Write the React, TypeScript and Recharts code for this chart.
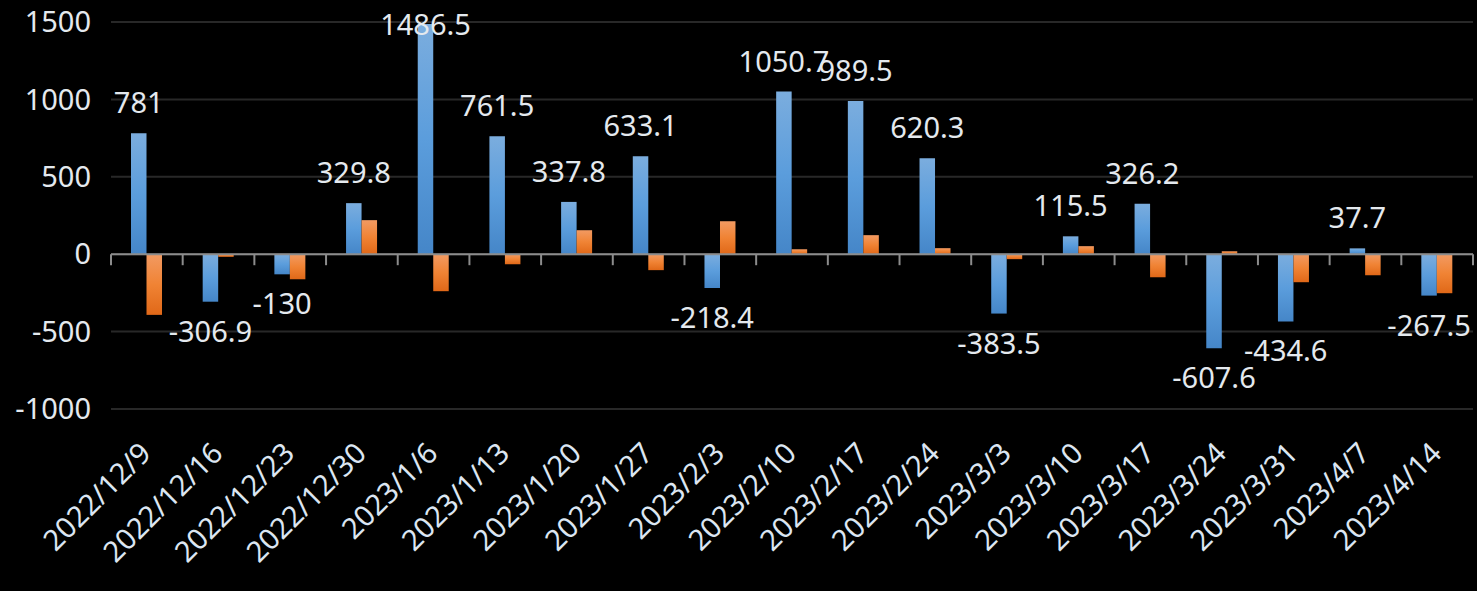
import { BarChart, Bar, XAxis, YAxis, CartesianGrid, ReferenceLine, LabelList } from "recharts";

const dates = [
  "2022/12/9", "2022/12/16", "2022/12/23", "2022/12/30", "2023/1/6", "2023/1/13", "2023/1/20",
  "2023/1/27", "2023/2/3", "2023/2/10", "2023/2/17", "2023/2/24", "2023/3/3", "2023/3/10",
  "2023/3/17", "2023/3/24", "2023/3/31", "2023/4/7", "2023/4/14",
];

const blueValues = [
  781, -306.9, -130, 329.8, 1486.5, 761.5, 337.8, 633.1, -218.4, 1050.7, 989.5, 620.3,
  -383.5, 115.5, 326.2, -607.6, -434.6, 37.7, -267.5,
];

// orange series has no labels
const orangeValues = [
  -392, -17, -162, 220, -239, -65, 155, -103, 213, 32, 123, 39, -32, 52, -149, 19, -181, -136, -252,
];

const yTicks = [-1000, -500, 0, 500, 1000, 1500];

const data = dates.map((d, i) => ({ date: d, a: blueValues[i], b: orangeValues[i] }));

const FONT = "'Noto Sans', 'DejaVu Sans', sans-serif";
const TEXT = "#e4e9ee";

function ValueLabel(props: any) {
  const vb = props.viewBox ?? props;
  const { x, y, width, height } = vb;
  const value = Number(props.value);
  const top = Math.min(y, y + height);
  const bottom = Math.max(y, y + height);
  const cx = x + width / 2;
  // keep the label inside the chart when the bar reaches the top
  const ty = value >= 0 ? Math.max(top - 20, 35) : bottom + 40;
  return (
    <text x={cx} y={ty} textAnchor="middle" fill={TEXT} fontSize={29} fontFamily={FONT}>
      {String(props.value)}
    </text>
  );
}

function DateTick({ x, y, payload }: any) {
  return (
    <text
      x={x + 6}
      y={y}
      transform={`rotate(-45, ${x + 6}, ${y})`}
      textAnchor="end"
      fill="#dce6f2"
      fontSize={29}
      fontFamily={FONT}
    >
      {payload.value}
    </text>
  );
}

function ZeroAxis(props: any) {
  const { x1, y1, x2 } = props;
  const n = dates.length;
  const step = (x2 - x1) / n;
  const marks = [];
  for (let i = 0; i <= n; i++) {
    const tx = x1 + step * i;
    marks.push(<line key={i} x1={tx} y1={y1} x2={tx} y2={y1 + 11} stroke="#8c8c8c" strokeWidth={2} />);
  }
  return (
    <g>
      <line x1={x1} y1={y1} x2={x2} y2={y1} stroke="#8c8c8c" strokeWidth={2} />
      {marks}
    </g>
  );
}

export default function App() {
  return (
    <div style={{ position: "absolute", left: 0, top: 0, width: 1477, height: 591, background: "#000" }}>
      <BarChart
        width={1477}
        height={591}
        data={data}
        margin={{ top: 22, right: 4, left: 0, bottom: 0 }}
        barGap={0}
      >
        <defs>
          <linearGradient id="blueGrad" x1="0" y1="0" x2="0" y2="1">
            <stop offset="0%" stopColor="#7badde" />
            <stop offset="50%" stopColor="#5b9ddc" />
            <stop offset="100%" stopColor="#4586c8" />
          </linearGradient>
          <linearGradient id="orangeGrad" x1="0" y1="0" x2="0" y2="1">
            <stop offset="0%" stopColor="#f29a62" />
            <stop offset="50%" stopColor="#f08334" />
            <stop offset="100%" stopColor="#e06818" />
          </linearGradient>
        </defs>
        <CartesianGrid vertical={false} stroke="#282828" strokeWidth={2} />
        <XAxis
          dataKey="date"
          interval={0}
          height={182}
          axisLine={false}
          tickLine={false}
          tickSize={0}
          tickMargin={46}
          tick={<DateTick />}
        />
        <YAxis
          domain={[-1000, 1500]}
          ticks={yTicks}
          width={111}
          axisLine={false}
          tickLine={false}
          tickSize={10}
          tickMargin={10}
          tick={{ fill: TEXT, fontSize: 29, fontFamily: FONT }}
        />
        <ReferenceLine y={0} shape={<ZeroAxis />} />
        <Bar dataKey="a" fill="url(#blueGrad)" barSize={15.5} isAnimationActive={false}>
          <LabelList dataKey="a" content={<ValueLabel />} />
        </Bar>
        <Bar dataKey="b" fill="url(#orangeGrad)" barSize={15.5} isAnimationActive={false} />
      </BarChart>
    </div>
  );
}
